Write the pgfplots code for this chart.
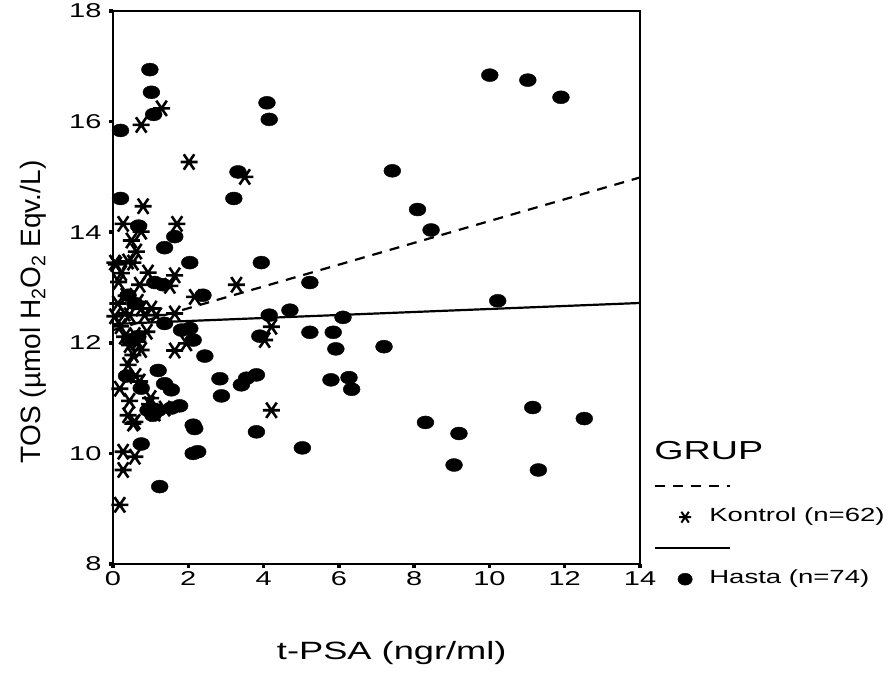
\documentclass[border=0pt]{standalone}
\usepackage{fontspec}
\setmainfont{Liberation Sans}[FakeStretch=1.45]
\newfontfamily\plainsans{Liberation Sans}
\usepackage{pgfplots}
\pgfplotsset{compat=1.18}

% asterisk with a horizontal bar and two steep diagonals
\pgfdeclareplotmark{hstar}{%
  \pgfpathmoveto{\pgfqpoint{-\pgfplotmarksize}{0pt}}%
  \pgfpathlineto{\pgfqpoint{\pgfplotmarksize}{0pt}}%
  \pgfpathmoveto{\pgfqpoint{-0.62\pgfplotmarksize}{-0.9\pgfplotmarksize}}%
  \pgfpathlineto{\pgfqpoint{0.62\pgfplotmarksize}{0.9\pgfplotmarksize}}%
  \pgfpathmoveto{\pgfqpoint{-0.62\pgfplotmarksize}{0.9\pgfplotmarksize}}%
  \pgfpathlineto{\pgfqpoint{0.62\pgfplotmarksize}{-0.9\pgfplotmarksize}}%
  \pgfusepathqstroke}

\begin{document}
\begin{tikzpicture}
\path[use as bounding box] (-113pt,-108pt) rectangle (780pt,564pt);
\begin{axis}[
  width=527pt, height=553pt, scale only axis,
  xmin=0, xmax=14, ymin=8, ymax=18,
  xtick={0,2,...,14}, ytick={8,10,...,18},
  tick pos=left, tick align=outside,
  major tick length=4pt,
  every tick/.style={black, line width=3.5pt},
  axis line style={line width=2.6pt},
  ticklabel style={font=\fontsize{20}{20}\selectfont},
  yticklabel style={xshift=-4pt},
  /pgf/number format/assume math mode=true,
  clip=false,
  xlabel={t-PSA (ngr/ml)},
  xlabel style={font=\fontsize{25}{25}\selectfont, at={(axis description cs:0.529,0)}, anchor=base, yshift=-95pt},
  ylabel={TOS (µmol H\textsubscript{2}O\textsubscript{2} Eqv./L)},
  ylabel style={font=\plainsans\fontsize{28}{28}\selectfont, at={(axis description cs:-0.152,0.456)}, anchor=center},
  legend style={draw=none, fill=none, at={(axis description cs:1.069,0.2143)}, anchor=north west,
    inner sep=0pt, row sep=12pt, font=\fontsize{19}{19}\selectfont,
    nodes={inner xsep=2pt, inner ysep=0pt, text height=14pt, text depth=5pt},
    /tikz/every odd column/.append style={column sep=-40pt}},
  legend cell align=left,
]
% Hasta
\addplot[only marks, mark=*, mark size=6.5pt, mark options={xscale=1.3, fill=black}, forget plot] coordinates {
(0.98,16.94)(1.02,16.53)(1.08,16.13)(0.20,15.84)(10.01,16.84)(11.02,16.75)(11.90,16.44)
(4.09,16.34)(4.15,16.04)(3.32,15.09)(7.42,15.11)(0.20,14.61)(3.21,14.61)(8.09,14.41)
(8.45,14.04)(0.68,14.11)(1.64,13.92)(1.37,13.72)(2.04,13.45)(3.94,13.45)(5.23,13.09)
(1.11,13.09)(1.33,13.05)(0.40,12.86)(2.39,12.86)(0.58,12.71)(4.70,12.59)(4.15,12.50)
(6.11,12.46)(10.22,12.76)(1.37,12.35)(1.82,12.23)(2.04,12.26)(2.13,12.05)(0.44,12.05)
(0.66,12.11)(3.90,12.12)(5.23,12.19)(5.85,12.19)(5.92,11.89)(7.20,11.93)(2.44,11.76)
(1.20,11.50)(0.36,11.40)(1.37,11.26)(1.55,11.15)(0.75,11.18)(2.84,11.35)(3.55,11.36)
(3.81,11.42)(3.41,11.24)(2.88,11.04)(5.79,11.33)(6.27,11.37)(6.34,11.16)(0.93,10.78)
(1.20,10.78)(1.77,10.86)(1.06,10.69)(2.13,10.51)(2.17,10.45)(3.81,10.39)(5.03,10.10)
(8.30,10.56)(9.19,10.36)(9.06,9.79)(11.15,10.83)(11.30,9.70)(12.52,10.63)(0.75,10.17)
(2.13,10.00)(2.25,10.03)(1.24,9.40)(1.55,10.82)
};
% Kontrol
\addplot[only marks, mark=hstar, mark size=8.5pt, mark options={line width=2.6pt}, forget plot] coordinates {
(1.29,16.24)(0.75,15.94)(2.02,15.27)(3.50,15.00)(0.80,14.47)(0.27,14.15)(0.75,14.01)
(1.70,14.15)(0.49,13.85)(0.62,13.65)(0.05,13.45)(0.09,13.42)(0.40,13.47)(0.53,13.45)
(0.22,13.26)(0.93,13.27)(1.64,13.22)(3.28,13.05)(0.71,13.05)(1.51,13.03)(2.17,12.83)
(0.13,12.71)(0.66,12.74)(0.31,12.53)(0.75,12.62)(1.02,12.62)(1.64,12.53)(0.05,12.48)
(0.44,12.50)(0.84,12.50)(1.15,12.50)(4.21,12.29)(4.03,12.05)(1.95,11.99)(0.31,12.11)
(0.58,12.14)(0.66,12.02)(0.44,11.96)(0.75,11.87)(0.53,11.78)(0.40,11.60)(1.64,11.86)
(0.18,11.17)(0.71,11.30)(0.44,10.95)(0.97,10.89)(0.40,10.69)(0.58,10.57)(1.11,10.72)
(1.37,10.81)(4.21,10.78)(0.53,10.54)(0.27,10.03)(0.58,9.94)(0.27,9.70)(0.18,9.07)
(0.20,12.30)(0.35,12.85)(0.90,12.20)(0.15,13.10)(0.60,11.40)(1.00,11.00)
};
% fit lines
\addplot[forget plot, line width=2.2pt, dash pattern=on 10pt off 8pt] coordinates {(0,12.23)(14,14.99)};
\addplot[forget plot, line width=2.2pt] coordinates {(0,12.34)(14,12.72)};

\addlegendimage{empty legend}
\addlegendentry[xshift=-55pt, font=\fontsize{26}{26}\selectfont]{GRUP}
\addlegendimage{legend image code/.code={\draw[overlay, line width=2.2pt, dash pattern=on 10pt off 8pt] (-21.5pt,0pt) -- (53.5pt,0pt);}}
\addlegendentry{}
\addlegendimage{only marks, mark=hstar, mark size=6pt, mark options={line width=2pt}}
\addlegendentry{Kontrol (n=62)}
\addlegendimage{legend image code/.code={\draw[overlay, line width=2.2pt] (-21.5pt,0pt) -- (53.5pt,0pt);}}
\addlegendentry{}
\addlegendimage{only marks, mark=*, mark size=6pt, mark options={xscale=1.2}}
\addlegendentry{Hasta (n=74)}
\end{axis}
\end{tikzpicture}
\end{document}
